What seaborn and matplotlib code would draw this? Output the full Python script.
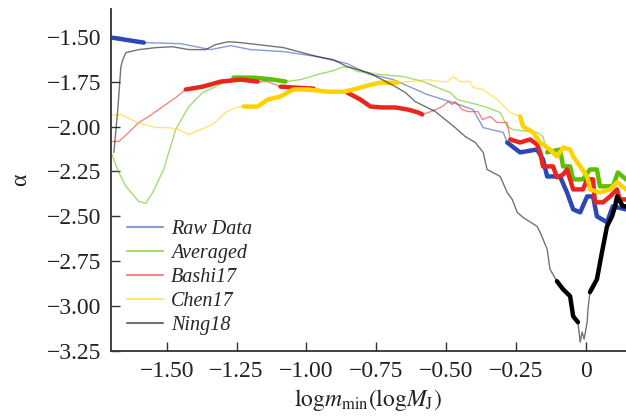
import numpy as np
import pandas as pd
import matplotlib
matplotlib.use('Agg')
import matplotlib.pyplot as plt
import seaborn as sns

# values (x = log m_min, y = alpha)
raw_x = [-1.693, -1.582, -1.45, -1.343, -1.271, -1.2, -1.082, -0.961, -0.854, -0.782, -0.689,
         -0.568, -0.475, -0.404, -0.368, -0.296, -0.282, -0.236, -0.175, -0.154, -0.139, -0.093,
         -0.068, -0.046, -0.021, 0.004, 0.025, 0.039, 0.075, 0.096, 0.143]
raw_y = [-1.506, -1.533, -1.539, -1.572, -1.55, -1.572, -1.583, -1.611, -1.65, -1.706, -1.739,
         -1.822, -1.867, -1.906, -2.006, -2.033, -2.089, -2.144, -2.128, -2.183, -2.278, -2.278,
         -2.367, -2.461, -2.478, -2.389, -2.389, -2.5, -2.533, -2.444, -2.461]
raw_sig = [(-1.70, -1.58), (-0.285, 0.15)]

avg_x = [-1.696, -1.671, -1.646, -1.6, -1.575, -1.55, -1.511, -1.468, -1.421, -1.371, -1.325,
         -1.261, -1.189, -1.118, -1.075, -1.021, -0.961, -0.904, -0.868, -0.843, -0.818, -0.782,
         -0.736, -0.654, -0.582, -0.532, -0.486, -0.461, -0.389, -0.354, -0.307, -0.282, -0.261,
         -0.175, -0.154, -0.139, -0.093, -0.082, -0.057, -0.046, -0.011, 0.014, 0.039, 0.05,
         0.096, 0.114, 0.143]
avg_y = [-2.156, -2.256, -2.333, -2.417, -2.428, -2.367, -2.239, -2.017, -1.889, -1.811, -1.778,
         -1.728, -1.728, -1.739, -1.75, -1.739, -1.711, -1.689, -1.667, -1.672, -1.694, -1.7,
         -1.711, -1.722, -1.75, -1.783, -1.811, -1.85, -1.878, -1.894, -1.922, -2.0, -2.017,
         -2.033, -2.056, -2.144, -2.128, -2.222, -2.222, -2.294, -2.294, -2.239, -2.239, -2.333,
         -2.333, -2.256, -2.294]
avg_sig = [(-1.27, -1.07), (-0.145, 0.15)]

bashi_x = [-1.696, -1.671, -1.636, -1.6, -1.564, -1.514, -1.468, -1.432, -1.371, -1.307, -1.236,
           -1.175, -1.139, -1.093, -1.046, -0.975, -0.904, -0.854, -0.807, -0.771, -0.729, -0.682,
           -0.636, -0.6, -0.586, -0.564, -0.539, -0.514, -0.493, -0.479, -0.468, -0.443, -0.421,
           -0.386, -0.371, -0.343, -0.318, -0.282, -0.271, -0.236, -0.2, -0.175, -0.164, -0.154,
           -0.118, -0.104, -0.082, -0.068, -0.057, -0.046, -0.011, 0.004, 0.025, 0.032, 0.061,
           0.086, 0.111, 0.121, 0.143]
bashi_y = [-2.083, -2.083, -2.033, -1.978, -1.944, -1.889, -1.839, -1.794, -1.778, -1.75, -1.739,
           -1.75, -1.75, -1.778, -1.783, -1.789, -1.806, -1.811, -1.85, -1.889, -1.894, -1.894,
           -1.906, -1.922, -1.933, -1.922, -1.906, -1.889, -1.861, -1.878, -1.861, -1.906, -1.917,
           -1.917, -1.961, -1.944, -1.978, -1.978, -2.072, -2.089, -2.072, -2.1, -2.144, -2.222,
           -2.222, -2.283, -2.267, -2.239, -2.294, -2.35, -2.35, -2.294, -2.294, -2.422, -2.422,
           -2.389, -2.35, -2.406, -2.406]
bashi_sig = [(-1.433, -1.17), (-1.10, -0.97), (-0.86, -0.585), (-0.275, 0.15)]

chen_x = [-1.696, -1.664, -1.604, -1.539, -1.493, -1.457, -1.421, -1.379, -1.336, -1.289, -1.254,
          -1.225, -1.175, -1.139, -1.093, -1.068, -1.046, -0.996, -0.925, -0.868, -0.832, -0.782,
          -0.736, -0.675, -0.629, -0.568, -0.521, -0.496, -0.475, -0.45, -0.414, -0.404, -0.368,
          -0.318, -0.271, -0.236, -0.225, -0.189, -0.164, -0.129, -0.104, -0.082, -0.057, -0.046,
          -0.021, 0.004, 0.014, 0.05, 0.086, 0.111, 0.143]
chen_y = [-1.939, -1.933, -1.978, -2.006, -2.006, -2.017, -2.044, -2.017, -1.989, -1.922, -1.894,
          -1.889, -1.889, -1.85, -1.833, -1.811, -1.794, -1.794, -1.806, -1.806, -1.794, -1.772,
          -1.756, -1.756, -1.75, -1.739, -1.75, -1.75, -1.722, -1.75, -1.75, -1.783, -1.794,
          -1.85, -1.922, -1.944, -2.0, -2.033, -2.089, -2.128, -2.167, -2.117, -2.128, -2.167,
          -2.222, -2.278, -2.35, -2.367, -2.35, -2.311, -2.35]
chen_sig = [(-1.226, -0.63), (-0.237, 0.15)]

ning_x = [-1.689, -1.675, -1.664, -1.657, -1.646, -1.6, -1.539, -1.479, -1.421, -1.361, -1.325,
          -1.279, -1.236, -1.175, -1.082, -0.961, -0.904, -0.854, -0.779, -0.729, -0.682, -0.646,
          -0.611, -0.575, -0.539, -0.504, -0.468, -0.432, -0.396, -0.368, -0.354, -0.307, -0.282,
          -0.264, -0.246, -0.225, -0.175, -0.164, -0.139, -0.129, -0.104, -0.082, -0.057, -0.046,
          -0.029, -0.021, -0.014, -0.007, 0.004, 0.007, 0.014, 0.039, 0.057, 0.075, 0.093, 0.104,
          0.111, 0.132, 0.143]
ning_y = [-2.144, -1.906, -1.667, -1.628, -1.589, -1.572, -1.561, -1.556, -1.572, -1.572, -1.544,
          -1.528, -1.533, -1.544, -1.561, -1.611, -1.628, -1.667, -1.7, -1.739, -1.778, -1.811,
          -1.861, -1.889, -1.917, -1.961, -2.006, -2.056, -2.089, -2.144, -2.239, -2.278, -2.367,
          -2.406, -2.478, -2.506, -2.556, -2.589, -2.683, -2.794, -2.861, -2.906, -2.944, -3.056,
          -3.089, -3.2, -3.144, -3.183, -3.089, -3.017, -2.922, -2.85, -2.7, -2.556, -2.5, -2.444,
          -2.389, -2.444, -2.444]
ning_sig = [(-0.105, -0.028), (0.013, 0.15)]

series = [
    ('Raw Data', raw_x, raw_y, raw_sig, '#2a48b8'),
    ('Averaged', avg_x, avg_y, avg_sig, '#5cbf00'),
    ('Bashi17', bashi_x, bashi_y, bashi_sig, '#e8261e'),
    ('Chen17', chen_x, chen_y, chen_sig, '#ffd200'),
    ('Ning18', ning_x, ning_y, ning_sig, '#000000'),
]

sns.set_theme(style="ticks")
plt.rcParams['font.family'] = ['Liberation Serif', 'DejaVu Serif']
plt.rcParams['mathtext.fontset'] = 'stix'

fig, ax = plt.subplots(figsize=(6.26, 4.2), dpi=100)
fig.subplots_adjust(left=0.177, right=1.0, bottom=0.164, top=0.979)

for name, xs, ys, sig, col in series:
    df = pd.DataFrame({'x': xs, 'y': ys})
    sns.lineplot(data=df, x='x', y='y', color=col, linewidth=1.0, alpha=0.55,
                 sort=False, estimator=None, label=name, ax=ax)
    parts = []
    for i, (a, b) in enumerate(sig):
        seg = df[(df['x'] >= a) & (df['x'] <= b)].copy()
        seg['seg'] = i
        parts.append(seg)
    thick = pd.concat(parts, ignore_index=True)
    sns.lineplot(data=thick, x='x', y='y', units='seg', color=col, linewidth=3.2,
                 sort=False, estimator=None, legend=False, ax=ax)

ax.set_xlim(-1.70, 0.143)
ax.set_ylim(-3.25, -1.345)

xticks = [-1.5, -1.25, -1.0, -0.75, -0.5, -0.25, 0.0]
xlabels = ['\u22121.50', '\u22121.25', '\u22121.00', '\u22120.75', '\u22120.50', '\u22120.25', '0']
yticks = [-1.5, -1.75, -2.0, -2.25, -2.5, -2.75, -3.0, -3.25]
ylabels = ['\u2212%.2f' % abs(v) for v in yticks]
ax.set_xticks(xticks)
ax.set_xticklabels(xlabels)
ax.set_yticks(yticks)
ax.set_yticklabels(ylabels)
ax.tick_params(direction='in', length=6.5, width=1.0, labelsize=17, pad=7, colors='#333333',
               labelcolor='#222222')

for s in ['top', 'right']:
    ax.spines[s].set_visible(False)
for s in ['left', 'bottom']:
    ax.spines[s].set_color('#333333')
    ax.spines[s].set_linewidth(1.3)

ax.set_xlabel(r'$\mathrm{log}m_{\mathrm{min}}(\mathrm{log}M_{\mathrm{J}})$', fontsize=17, labelpad=4,
              color='#222222')
ax.set_ylabel('\u03b1', fontsize=17, labelpad=11, color='#222222')

leg = ax.legend(loc='lower left', bbox_to_anchor=(0.0, 0.0), frameon=False,
                prop={'family': 'Liberation Serif', 'style': 'italic', 'size': 14.5},
                handlelength=1.8, labelspacing=0.24, handletextpad=0.4, borderpad=0.3)
for h in leg.get_lines():
    h.set_linewidth(1.5)

plt.savefig('out.png', dpi=100)
